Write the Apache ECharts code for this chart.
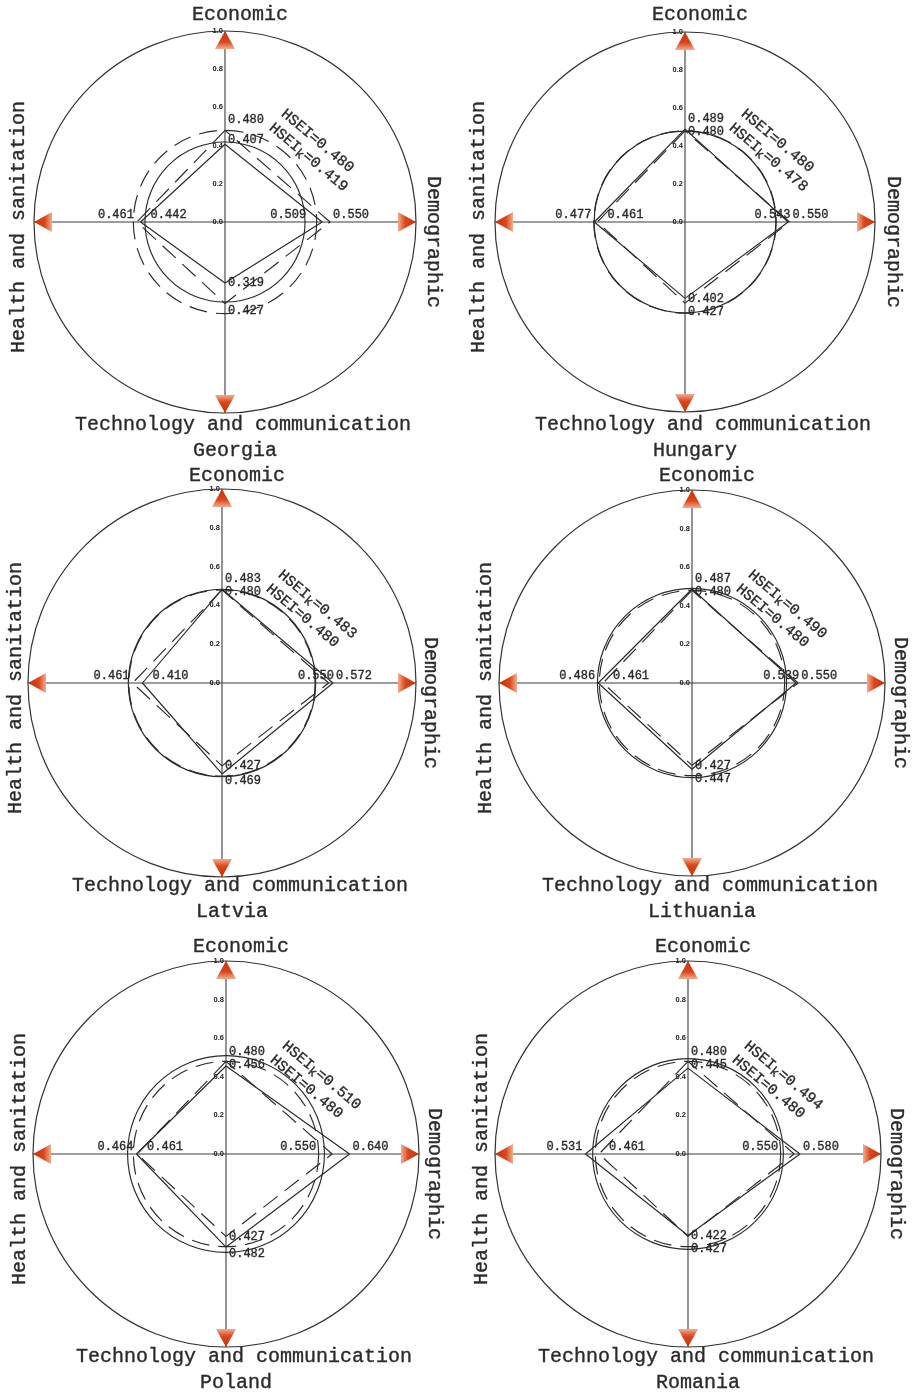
<!DOCTYPE html>
<html>
<head>
<meta charset="utf-8">
<script src="https://cdn.jsdelivr.net/npm/echarts@6/dist/echarts.min.js"></script>
<style>
html, body { margin: 0; padding: 0; background: #ffffff; }
#chart { width: 913px; height: 1396px; }
</style>
</head>
<body>
<div id="chart"></div>
<script>
// Sub-index order: Economic, Demographic, Technology and communication, Health and sanitation
const dimensionNames = ['Economic', 'Demographic', 'Technology and communication', 'Health and sanitation'];
const countries = ['Georgia', 'Hungary', 'Latvia', 'Lithuania', 'Poland', 'Romania'];

// Regional reference sub-indices (dashed diamond) and overall HSEI (dashed circle)
const referenceValues = [0.480, 0.550, 0.427, 0.461];
const referenceIndex = 0.480;

// Country sub-indices (solid diamond) and country HSEIk (solid circle)
const georgiaValues = [0.407, 0.509, 0.319, 0.442];
const hungaryValues = [0.489, 0.543, 0.402, 0.477];
const latviaValues = [0.483, 0.572, 0.469, 0.410];
const lithuaniaValues = [0.487, 0.539, 0.447, 0.486];
const polandValues = [0.456, 0.640, 0.482, 0.464];
const romaniaValues = [0.445, 0.580, 0.422, 0.531];
const countryIndex = [0.419, 0.478, 0.483, 0.490, 0.510, 0.494];

// Radius axis tick labels
const radiusTickLabels = ['0.0', '0.2', '0.4', '0.6', '0.8', '1.0'];

const countryValues = [georgiaValues, hungaryValues, latviaValues, lithuaniaValues, polandValues, romaniaValues];

// Angle of each sub-index on the angle axis (counter-clockwise from the top)
const dimensionAngles = [0, 270, 180, 90];

// Panel placement on the page
const panels = [
  { cx: 225, cy: 222, r: 191 },
  { cx: 685, cy: 222, r: 190 },
  { cx: 222, cy: 683, r: 194 },
  { cx: 692, cy: 683, r: 193 },
  { cx: 226, cy: 1154, r: 193 },
  { cx: 688, cy: 1154, r: 193 }
];

const INK = '#2a2a2a';
const MONO = '"Liberation Mono", "DejaVu Sans Mono", monospace';
const TITLE_FONT = '20px ' + MONO;
const VALUE_FONT = '12px ' + MONO;
const INDEX_FONT = '15px ' + MONO;
const DASH = [18, 9];
// a hairline outline thickens the thin monospace glyphs slightly
const HEAVY = { stroke: INK, lineWidth: 0.35 };

function closedPolygon(values) {
  // Economic -> Health -> Technology -> Demographic -> Economic
  return [0, 3, 2, 1, 0].map(k => [values[k], dimensionAngles[k]]);
}

function txt(x, y, text, align, vAlign, font, extra) {
  return {
    type: 'text', x: x, y: y,
    style: Object.assign({
      text: text, font: font || VALUE_FONT, fill: INK,
      align: align, textAlign: align,
      verticalAlign: vAlign, textVerticalAlign: vAlign
    }, HEAVY, extra || {})
  };
}

// Value labels next to the diamond vertices
function renderValueLabels(params, api) {
  const ref = api.value(0), ang = api.value(1), own = api.value(2), k = api.value(3);
  const big = Math.max(ref, own), small = Math.min(ref, own);
  const PL = api.coord([big, ang]);
  const PS = api.coord([small, ang]);
  const c = api.coord([0, ang]);
  const f = v => v.toFixed(3);
  const kids = [];
  if (k === 0) {            // Economic (top)
    kids.push(txt(c[0] + 3, PL[1] - 4, f(big), 'left', 'bottom'));
    kids.push(txt(c[0] + 3, Math.max(PL[1] - 3, PS[1] - 10), f(small), 'left', 'top'));
  } else if (k === 2) {     // Technology (bottom)
    kids.push(txt(c[0] + 3, PS[1], f(small), 'left', 'middle'));
    kids.push(txt(c[0] + 3, Math.max(PL[1] + 7, PS[1] + 13), f(big), 'left', 'middle'));
  } else if (k === 3) {     // Health (left)
    kids.push(txt(PL[0] - 3, c[1] - 1, f(big), 'right', 'bottom'));
    kids.push(txt(PS[0] + 10, c[1] - 1, f(small), 'left', 'bottom'));
  } else {                  // Demographic (right)
    kids.push(txt(PL[0] + 3, c[1] - 1, f(big), 'left', 'bottom'));
    const close = (PL[0] - PS[0]) < 5;
    kids.push(txt(close ? PL[0] + 1 : PS[0] - 16, c[1] - 1, f(small), 'right', 'bottom'));
  }
  return { type: 'group', children: kids };
}

// Index annotations written along the upper-right diagonal
function renderIndexLabels(params, api) {
  const ref = api.value(0), own = api.value(2);
  const c = api.coord([0, 0]);
  const rot = -40 * Math.PI / 180;
  const refText = 'HSEI=' + ref.toFixed(3);
  const ownText = 'HSEI{sub|k}=' + own.toFixed(3);
  const upper = own > ref ? ownText : refText;
  const lower = own > ref ? refText : ownText;
  const rich = { sub: { font: '13px ' + MONO, fill: INK, padding: [7, 0, 0, 0] } };
  const mk = (dx, dy, t) => ({
    type: 'text', x: c[0] + dx, y: c[1] + dy, rotation: rot,
    style: Object.assign({ text: t, font: INDEX_FONT, fill: INK, align: 'left', textAlign: 'left',
      verticalAlign: 'middle', textVerticalAlign: 'middle', rich: rich }, HEAVY)
  });
  return { type: 'group', children: [mk(58, -110, upper), mk(46, -96, lower)] };
}

// HSEI circles
function renderCircle(params, api) {
  const c = api.coord([0, 0]);
  const p = api.coord([api.value(0), 0]);
  const rr = Math.hypot(p[0] - c[0], p[1] - c[1]);
  const dashed = api.value(2) === 1;
  return {
    type: 'circle',
    shape: { cx: c[0], cy: c[1], r: rr },
    style: { fill: 'none', stroke: INK, lineWidth: 1.15, lineDash: dashed ? DASH : null }
  };
}

// Arrow heads at the ends of the four axes
function renderArrow(params, api) {
  const ang = api.value(1);
  const tip = api.coord([api.value(0), ang]);
  const c = api.coord([0, ang]);
  const len = Math.hypot(tip[0] - c[0], tip[1] - c[1]);
  const ux = (tip[0] - c[0]) / len, uy = (tip[1] - c[1]) / len;
  const L = 18, W = 10;
  const bx = tip[0] - ux * L, by = tip[1] - uy * L;
  const nx = -uy, ny = ux;
  const grad = new echarts.graphic.LinearGradient(
    0.5 + 0.5 * ux, 0.5 + 0.5 * uy, 0.5 - 0.5 * ux, 0.5 - 0.5 * uy,
    [
      { offset: 0, color: '#c9320c' },
      { offset: 0.6, color: '#d9471b' },
      { offset: 1, color: '#f3ad90' }
    ]
  );
  return {
    type: 'polygon',
    shape: { points: [[tip[0], tip[1]], [bx + nx * W, by + ny * W], [bx - nx * W, by - ny * W]] },
    style: { fill: grad, stroke: null },
    z2: 10
  };
}

const polar = [], angleAxis = [], radiusAxis = [], series = [], graphics = [];

panels.forEach((p, i) => {
  polar.push({ center: [p.cx, p.cy], radius: p.r });
  angleAxis.push({
    polarIndex: i, type: 'value', min: 0, max: 360, interval: 90,
    startAngle: 90, clockwise: false,
    axisLine: { lineStyle: { color: '#333333', width: 1.2 } },
    axisTick: { show: false }, axisLabel: { show: false },
    splitLine: { show: true, lineStyle: { color: '#3c3c3c', width: 1.1 } }
  });
  radiusAxis.push({
    polarIndex: i, type: 'value', min: 0, max: 1, interval: 0.2,
    axisLine: { show: false }, axisTick: { show: false },
    splitLine: { show: false },
    axisLabel: {
      show: true, inside: false, margin: 2,
      formatter: (v, idx) => radiusTickLabels[idx],
      fontSize: 7.5, fontWeight: 'bold', color: '#222',
      fontFamily: '"Liberation Sans", Arial, sans-serif'
    }
  });

  const vals = countryValues[i];
  series.push({
    type: 'line', coordinateSystem: 'polar', polarIndex: i,
    data: closedPolygon(referenceValues), symbol: 'none', silent: true,
    lineStyle: { color: INK, width: 1.15, type: DASH }, z: 3
  });
  series.push({
    type: 'line', coordinateSystem: 'polar', polarIndex: i,
    data: closedPolygon(vals), symbol: 'none', silent: true,
    lineStyle: { color: INK, width: 1.15, type: 'solid' }, z: 3
  });
  series.push({
    type: 'custom', coordinateSystem: 'polar', polarIndex: i, silent: true,
    data: [[referenceIndex, 0, 1], [countryIndex[i], 0, 0]],
    renderItem: renderCircle, z: 3
  });
  series.push({
    type: 'custom', coordinateSystem: 'polar', polarIndex: i, silent: true,
    data: dimensionAngles.map(a => [1.0, a]),
    renderItem: renderArrow, z: 5
  });
  series.push({
    type: 'custom', coordinateSystem: 'polar', polarIndex: i, silent: true,
    data: [0, 1, 2, 3].map(k => [referenceValues[k], dimensionAngles[k], vals[k], k]),
    renderItem: renderValueLabels, z: 6
  });
  series.push({
    type: 'custom', coordinateSystem: 'polar', polarIndex: i, silent: true,
    data: [[referenceIndex, 0, countryIndex[i]]],
    renderItem: renderIndexLabels, z: 6
  });

  // Dimension names around the panel and the country name below it
  const t = (x, y, text, rot) => ({
    type: 'text', x: x, y: y, rotation: rot || 0, silent: true,
    style: Object.assign({ text: text, font: TITLE_FONT, fill: INK,
      align: 'center', textAlign: 'center', verticalAlign: 'middle', textVerticalAlign: 'middle' }, HEAVY)
  });
  graphics.push(t(p.cx + 15, p.cy - 207, dimensionNames[0]));
  graphics.push(t(p.cx + 208, p.cy + 20, dimensionNames[1], -Math.PI / 2));
  graphics.push(t(p.cx + 18, p.cy + 203, dimensionNames[2]));
  graphics.push(t(p.cx - 206, p.cy + 5, dimensionNames[3], Math.PI / 2));
  graphics.push(t(p.cx + 10, p.cy + 229, countries[i]));
});

const chart = echarts.init(document.getElementById('chart'), null, { renderer: 'canvas' });
chart.setOption({
  animation: false,
  backgroundColor: '#ffffff',
  polar: polar,
  angleAxis: angleAxis,
  radiusAxis: radiusAxis,
  series: series,
  graphic: { elements: graphics }
});
</script>
</body>
</html>
